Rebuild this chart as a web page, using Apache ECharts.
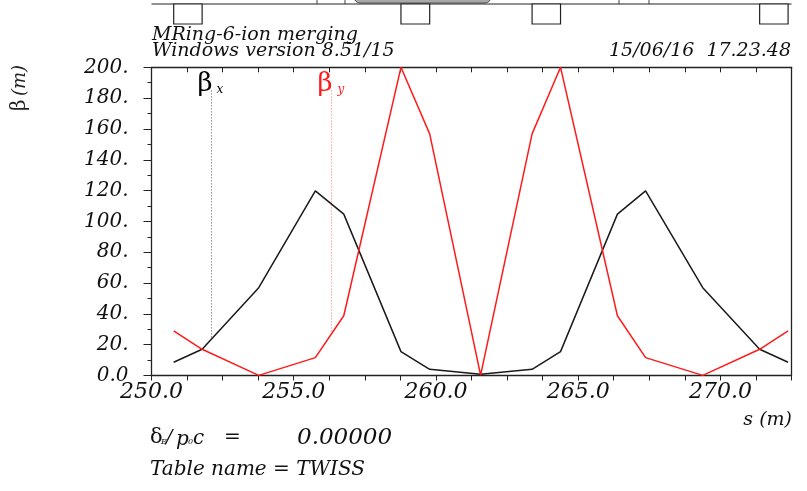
<!DOCTYPE html>
<html><head><meta charset="utf-8">
<script src="https://cdn.jsdelivr.net/npm/echarts@6/dist/echarts.min.js"></script>
<style>html,body{margin:0;padding:0;background:#fff}#c{width:807px;height:491px}</style>
</head><body><div id="c"></div>
<script>
// ---- data ----
const sPos  = [250.78, 251.78, 253.77, 255.76, 256.76, 258.77, 259.78, 261.57, 263.38, 264.38, 266.38, 267.37, 269.38, 271.38, 272.38];
const betaX = [8.6, 17.0, 57.0, 119.8, 104.7, 15.5, 4.0, 0.8, 4.0, 15.5, 104.7, 119.8, 57.0, 17.0, 8.6];
const betaY = [28.9, 17.0, 0.1, 11.6, 38.8, 200.0, 156.8, 0.3, 156.8, 200.0, 38.8, 11.6, 0.1, 17.0, 28.9];
// legend marker lines (dotted)
const markXs = [252.11, 252.11];
const markXb = [185, 23.6];
const markYs = [256.33, 256.33];
const markYb = [185, 27.1];
// lattice elements (quadrupoles) drawn above the plot
const quadStart = [250.78, 258.77, 263.38, 271.38];
const quadEnd   = [251.78, 259.78, 264.38, 272.38];
// tick labels
const xTickValues = [250, 255, 260, 265, 270];
const xTickLabels = ['250.0', '255.0', '260.0', '265.0', '270.0'];
const yTickValues = [0, 20, 40, 60, 80, 100, 120, 140, 160, 180, 200];
const yTickLabels = ['0.0', '20.', '40.', '60.', '80.', '100.', '120.', '140.', '160.', '180.', '200.'];

const FONT = 'DejaVu Serif';
const zip = (a, b) => a.map((v, i) => [v, b[i]]);

const chart = echarts.init(document.getElementById('c'), null, {renderer: 'canvas'});
const axisCommon = {
  type: 'value', min: 250, max: 272.5, interval: 2.5,
  axisLine: {show: true, onZero: false, lineStyle: {color: '#222', width: 1.3}},
  splitLine: {show: false},
  minorTick: {show: true, splitNumber: 2, length: 5, lineStyle: {color: '#222', width: 1}},
  axisTick: {show: true, length: 5, lineStyle: {color: '#222', width: 1}}
};
chart.setOption({
  animation: false,
  backgroundColor: '#fff',
  grid: {left: 151.5, right: 15.5, top: 67.3, bottom: 115.5, containLabel: false},
  xAxis: [
    Object.assign({}, axisCommon, {
      position: 'bottom',
      axisLabel: {
        margin: 6, fontFamily: FONT, fontStyle: 'italic', fontSize: 22, color: '#111',
        showMaxLabel: false,
        formatter: v => { const i = xTickValues.indexOf(Math.round(v * 100) / 100); return i >= 0 ? xTickLabels[i] : ''; }
      }
    }),
    Object.assign({}, axisCommon, {
      position: 'top',
      axisTick: {show: true, inside: true, length: 5, lineStyle: {color: '#222', width: 1}},
      minorTick: {show: true, splitNumber: 2, length: 5, lineStyle: {color: '#222', width: 1}},
      axisLabel: {show: false}
    })
  ],
  yAxis: [
    {
      type: 'value', min: 0, max: 200, interval: 20, position: 'left',
      axisLine: {show: true, onZero: false, lineStyle: {color: '#222', width: 1.3}},
      splitLine: {show: false},
      axisTick: {show: true, length: 8, lineStyle: {color: '#222', width: 1}},
      minorTick: {show: true, splitNumber: 2, length: 4, lineStyle: {color: '#222', width: 1}},
      axisLabel: {
        margin: 23, fontFamily: FONT, fontStyle: 'italic', fontSize: 20, color: '#111',
        formatter: v => { const i = yTickValues.indexOf(Math.round(v)); return i >= 0 ? yTickLabels[i] : ''; }
      }
    },
    {
      type: 'value', min: 0, max: 200, position: 'right',
      axisLine: {show: true, onZero: false, lineStyle: {color: '#222', width: 1.3}},
      axisTick: {show: false}, axisLabel: {show: false}, splitLine: {show: false}
    }
  ],
  series: [
    {type: 'line', name: 'betx', data: zip(sPos, betaX), showSymbol: false, symbol: 'none',
     lineStyle: {color: '#1a1a1a', width: 1.5}, z: 3},
    {type: 'line', name: 'bety', data: zip(sPos, betaY), showSymbol: false, symbol: 'none',
     lineStyle: {color: '#ff1a1a', width: 1.5}, z: 4},
    {type: 'line', name: 'mx', data: zip(markXs, markXb), showSymbol: false, symbol: 'none',
     lineStyle: {color: '#555', width: 1, type: [1, 2]}, z: 2},
    {type: 'line', name: 'my', data: zip(markYs, markYb), showSymbol: false, symbol: 'none',
     lineStyle: {color: '#ff7070', width: 1, type: [1, 2]}, z: 2}
  ]
});

const px = v => chart.convertToPixel({xAxisIndex: 0}, v);
const italic = (text, x, y, size, align, color) => ({
  type: 'text', x: x, y: y, silent: true,
  style: {text: text, fontFamily: FONT, fontStyle: 'italic', fontSize: size, fill: color || '#111',
          align: align || 'left', verticalAlign: 'middle'}
});

const g = [];
// lattice line and elements
const xl = px(250), xr = px(272.5);
g.push({type: 'rect', shape: {x: 354, y: -9, width: 137, height: 12, r: 6},
        style: {fill: '#a8a8a8', stroke: '#555', lineWidth: 1}});
[317, 345, 619, 649].forEach(x => g.push({type: 'line', shape: {x1: x, y1: 0, x2: x, y2: 4}, style: {stroke: '#444', lineWidth: 1}}));
g.push({type: 'line', shape: {x1: xl, y1: 4, x2: xr, y2: 4}, style: {stroke: '#222', lineWidth: 1.2}});
quadStart.forEach((s, i) => {
  const a = px(s), b = px(quadEnd[i]);
  g.push({type: 'rect', shape: {x: a, y: 4, width: b - a, height: 20},
          style: {fill: '#fff', stroke: '#222', lineWidth: 1.2}});
});
// header text
g.push(italic('MRing-6-ion merging', 152, 35, 19));
g.push(italic('Windows version 8.51/15', 152, 51, 19));
g.push(italic('15/06/16  17.23.48', 791, 51, 19, 'right'));
// y axis title
g.push({type: 'text', x: 20, y: 88, rotation: Math.PI / 2, silent: true,
  style: {text: '{b|β} {i|(m)}', align: 'center', verticalAlign: 'middle',
    rich: {b: {fontFamily: FONT, fontSize: 20, fill: '#222'},
           i: {fontFamily: FONT, fontStyle: 'italic', fontSize: 18, fill: '#222'}}}});
// x axis title
g.push(italic('s (m)', 792, 420, 19, 'right'));
// legend labels
const lx = px(markXs[0]), ly = px(markYs[0]);
g.push({type: 'text', x: lx + 1, y: 84, silent: true,
  style: {text: 'β', fontFamily: FONT, fontSize: 26, fill: '#000', align: 'right', verticalAlign: 'middle'}});
g.push(italic('x', lx + 5, 90, 12, 'left', '#000'));
g.push({type: 'text', x: ly + 1, y: 84, silent: true,
  style: {text: 'β', fontFamily: FONT, fontSize: 26, fill: '#ff1a1a', align: 'right', verticalAlign: 'middle'}});
g.push(italic('y', ly + 6, 90, 12, 'left', '#ff1a1a'));
// bottom text
g.push({type: 'text', x: 150, y: 438, silent: true,
  style: {text: 'δ', fontFamily: FONT, fontSize: 21, fill: '#111', align: 'left', verticalAlign: 'middle'}});
g.push(italic('E', 161, 442, 8));
g.push(italic('/', 166, 438, 19));
g.push(italic('p', 176, 440, 20));
g.push(italic('0', 188, 442, 8));
g.push(italic('c', 193, 439, 20));
g.push(italic('=', 224, 438, 20));
g.push(italic('0.00000', 297, 438, 23));
g.push(italic('Table name = TWISS', 150, 470, 20));

chart.setOption({graphic: g});
</script>
</body></html>
